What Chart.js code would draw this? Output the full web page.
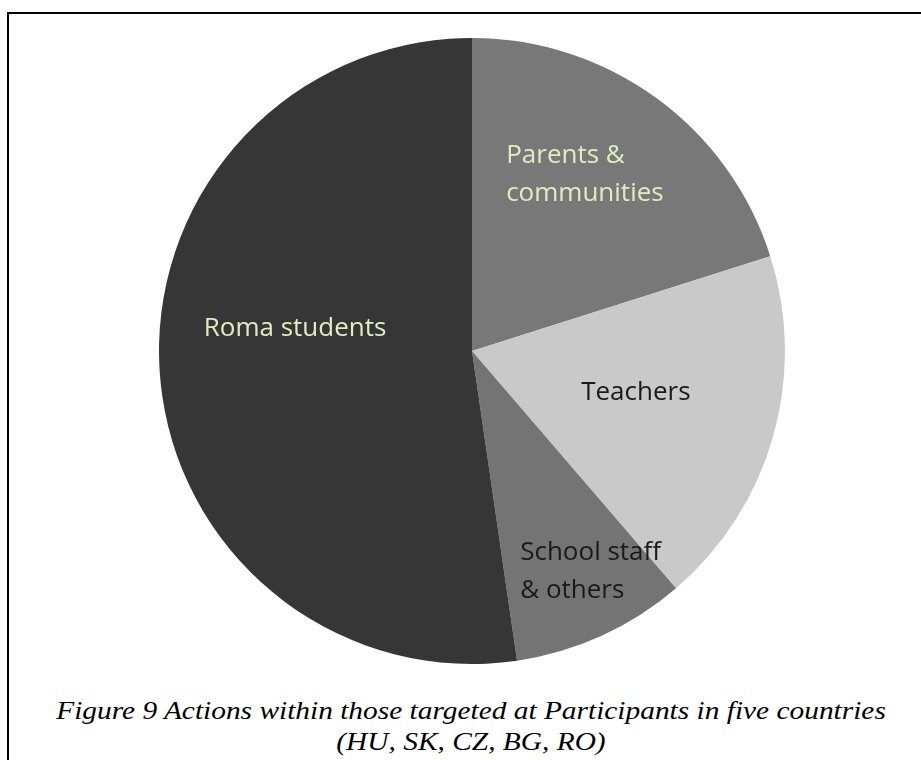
<!DOCTYPE html>
<html>
<head>
<meta charset="utf-8">
<script src="https://cdn.jsdelivr.net/npm/chart.js@4/dist/chart.umd.min.js"></script>
<style>
  html, body { margin: 0; padding: 0; background: #fff; overflow: hidden; }
  body { height: 760px; position: relative; }
  .rule { position: absolute; background: #000; }
  .rule.top { left: 7px; top: 12px; width: 2000px; height: 2px; }
  .rule.left { left: 7px; top: 12px; width: 2px; height: 748px; }
  .pie-box { position: absolute; left: 159px; top: 38px; width: 626px; height: 626px; }
  .caption {
    position: absolute; left: 0; top: 695px; width: 942px;
    text-align: center;
    font-family: "Liberation Serif", "Times New Roman", serif;
    font-style: italic; font-size: 26px; line-height: 31px; color: #000;
    transform: scaleX(1.13); transform-origin: 50% 0;
  }
</style>
</head>
<body>
<div class="rule top"></div>
<div class="rule left"></div>
<div class="pie-box"><canvas id="targetsPie"></canvas></div>
<div class="caption">Figure 9 Actions within those targeted at Participants in five countries<br>(HU, SK, CZ, BG, RO)</div>

<script>
// ── Data ─────────────────────────────────────────────
const groups = ['Parents & communities', 'Teachers', 'School staff & others', 'Roma students'];
const labelLines = [['Parents &', 'communities'], ['Teachers'], ['School staff', '& others'], ['Roma students']];
const shares = [20.1, 18.6, 9.0, 52.3];

// ── Styles ───────────────────────────────────────────
const sliceColors = ['#787878', '#c9c9c9', '#747474', '#363636'];
const textColors = ['#e3ecbf', '#1a1a1a', '#1a1a1a', '#e3ecbf'];
// label spot relative to slice: fraction of radius, angle shift (deg) from slice middle
const labelSpots = [
    { r: 0.67, shift: -3.6 },
    { r: 0.54, shift: -1.6 },
    { r: 0.80, shift: -3.8 },
    { r: 0.57, shift: 11.5 }
];

// ── In-slice labels, left aligned block ──────────────
const sliceLabels = {
    id: 'sliceLabels',
    afterDatasetsDraw(chart) {
        const { ctx } = chart;
        const arcs = chart.getDatasetMeta(0).data;
        ctx.save();
        ctx.font = '26px "Open Sans"';
        ctx.textBaseline = 'middle';
        ctx.textAlign = 'left';
        const lineH = 38;
        arcs.forEach((arc, i) => {
            const spot = labelSpots[i];
            const mid = (arc.startAngle + arc.endAngle) / 2 + spot.shift * Math.PI / 180;
            const cx = arc.x + Math.cos(mid) * arc.outerRadius * spot.r;
            const cy = arc.y + Math.sin(mid) * arc.outerRadius * spot.r;
            const lines = labelLines[i];
            const w = Math.max(...lines.map(l => ctx.measureText(l).width));
            const y0 = cy - (lines.length - 1) * lineH / 2;
            ctx.fillStyle = textColors[i];
            lines.forEach((l, k) => ctx.fillText(l, cx - w / 2, y0 + k * lineH));
        });
        ctx.restore();
    }
};

new Chart(document.getElementById('targetsPie'), {
    type: 'pie',
    data: {
        labels: groups,
        datasets: [{
            data: shares,
            backgroundColor: sliceColors,
            borderWidth: 0,
            offset: 0,
            hoverOffset: 0
        }]
    },
    options: {
        responsive: true,
        maintainAspectRatio: false,
        animation: false,
        events: [],
        layout: { padding: 0 },
        plugins: {
            legend: { display: false },
            tooltip: { enabled: false }
        }
    },
    plugins: [sliceLabels]
});
</script>
</body>
</html>
